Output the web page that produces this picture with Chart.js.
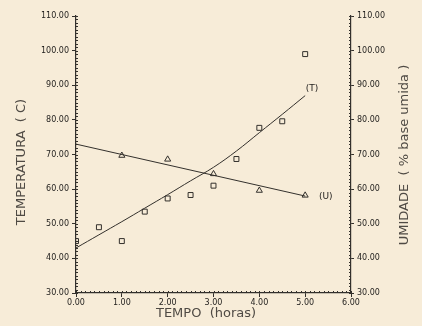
<!DOCTYPE html>
<html>
<head>
<meta charset="utf-8">
<script src="https://cdn.jsdelivr.net/npm/chart.js@4/dist/chart.umd.min.js"></script>
<style>
  html, body { margin: 0; padding: 0; background: #f7ecd8; }
</style>
</head>
<body>
<canvas id="c" width="422" height="326"></canvas>
<script>
// medidas (quadrados = temperatura, triangulos = umidade)
const horasT = [0, 0.5, 1, 1.5, 2, 2.5, 3, 3.5, 4, 4.5, 5];
const temperatura = [45, 49, 45, 53.5, 57.3, 58.3, 61, 68.7, 77.7, 79.6, 99];
const horasU = [1, 2, 3, 4, 5];
const umidade = [69.7, 68.6, 64.4, 59.6, 58.2];

// curvas ajustadas
const ajusteHorasT = [0, 0.5, 1, 1.5, 2, 2.5, 3, 3.5, 4, 4.5, 5];
const ajusteT = [43, 46.8, 50.6, 54.5, 58.4, 62.4, 66.3, 71, 76.3, 81.6, 87];
const ajusteHorasU = [0, 5];
const ajusteU = [73, 58];

const ink = '#33302c';
const labelInk = '#1f1d1b';
const tickFont = { family: 'DejaVu Sans', size: 8 };

const pts = (xs, ys) => xs.map((h, i) => ({ x: h, y: ys[i] }));

const extras = {
  id: 'extras',
  beforeDraw(chart) {
    const ctx = chart.ctx;
    ctx.save();
    ctx.fillStyle = '#f7ecd8';
    ctx.fillRect(0, 0, chart.width, chart.height);
    ctx.restore();
  },
  afterDraw(chart) {
    const { ctx, scales: { x, y, y1 } } = chart;
    ctx.save();
    // minor ticks
    ctx.strokeStyle = ink;
    ctx.lineWidth = 1;
    ctx.beginPath();
    for (let v = 30; v <= 110; v++) {
      const a = Math.round(y.getPixelForValue(v)) + 0.5;
      ctx.moveTo(y.right, a); ctx.lineTo(y.right + 2, a);
      const b = Math.round(y1.getPixelForValue(v)) + 0.5;
      ctx.moveTo(y1.left, b); ctx.lineTo(y1.left - 2, b);
    }
    for (let i = 0; i <= 60; i++) {
      const px = Math.round(x.getPixelForValue(i / 10)) + 0.5;
      ctx.moveTo(px, x.top); ctx.lineTo(px, x.top - 2);
    }
    ctx.stroke();

    // titles
    ctx.fillStyle = '#4f4a44';
    ctx.font = '13px "DejaVu Sans"';
    ctx.textAlign = 'center';
    ctx.textBaseline = 'middle';
    ctx.fillText('TEMPO  (horas)', 206, 314);

    ctx.save();
    ctx.translate(22, 162);
    ctx.rotate(-Math.PI / 2);
    ctx.fillText('TEMPERATURA  ( C)', 0, 0);
    ctx.restore();

    ctx.save();
    ctx.translate(405, 155);
    ctx.rotate(-Math.PI / 2);
    ctx.fillText('UMIDADE  ( % base umida )', 0, 0);
    ctx.restore();

    // curve labels
    ctx.fillStyle = labelInk;
    ctx.font = '9px "DejaVu Sans"';
    ctx.fillText('(T)', x.getPixelForValue(5.15), y.getPixelForValue(89));
    ctx.fillText('(U)', x.getPixelForValue(5.45), y1.getPixelForValue(57.8));
    ctx.restore();
  }
};

new Chart(document.getElementById('c'), {
  type: 'scatter',
  data: {
    datasets: [
      {
        data: pts(ajusteHorasT, ajusteT),
        yAxisID: 'y',
        showLine: true,
        tension: 0.4,
        borderColor: ink,
        borderWidth: 1,
        pointRadius: 0
      },
      {
        data: pts(ajusteHorasU, ajusteU),
        yAxisID: 'y1',
        showLine: true,
        borderColor: ink,
        borderWidth: 1,
        pointRadius: 0
      },
      {
        data: pts(horasT, temperatura),
        yAxisID: 'y',
        pointStyle: 'rect',
        pointRadius: 3.5,
        pointBorderWidth: 1,
        pointBorderColor: ink,
        pointBackgroundColor: 'rgba(0,0,0,0)'
      },
      {
        data: pts(horasU, umidade),
        yAxisID: 'y1',
        pointStyle: 'triangle',
        pointRadius: 3.5,
        pointBorderWidth: 1,
        pointBorderColor: ink,
        pointBackgroundColor: 'rgba(0,0,0,0)'
      }
    ]
  },
  options: {
    responsive: false,
    animation: false,
    layout: { padding: { top: 16, left: 0, right: 0, bottom: 0 } },
    plugins: { legend: { display: false }, tooltip: { enabled: false } },
    scales: {
      x: {
        type: 'linear',
        position: 'bottom',
        min: 0, max: 6,
        ticks: { stepSize: 1, callback: v => v.toFixed(2), font: tickFont, color: labelInk, padding: 1, maxRotation: 0 },
        grid: { drawOnChartArea: false, tickLength: 4, color: ink },
        border: { color: ink, width: 1.2 },
        afterFit(s) { s.height = 33; }
      },
      y: {
        position: 'left',
        min: 30, max: 110,
        ticks: { stepSize: 10, callback: v => v.toFixed(2), font: tickFont, color: labelInk, padding: 3 },
        grid: { drawOnChartArea: false, tickLength: 4, color: ink },
        border: { color: ink, width: 1.2 },
        afterFit(s) { s.width = 76; }
      },
      y1: {
        position: 'right',
        min: 30, max: 110,
        ticks: { stepSize: 10, callback: v => v.toFixed(2), font: tickFont, color: labelInk, padding: 3 },
        grid: { drawOnChartArea: false, tickLength: 3, color: ink },
        border: { color: ink, width: 1.2 },
        afterFit(s) { s.width = 71; }
      }
    }
  },
  plugins: [extras]
});
</script>
</body>
</html>
